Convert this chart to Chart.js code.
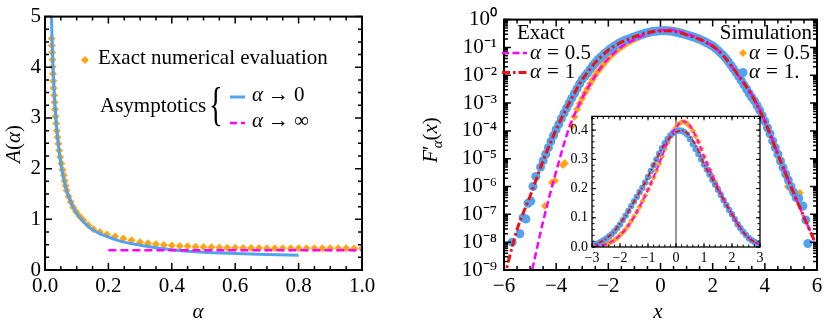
<!DOCTYPE html>
<html>
<head>
<meta charset="utf-8">
<script src="https://cdn.jsdelivr.net/npm/chart.js@4.4.1/dist/chart.umd.min.js"></script>
<style>
html,body{margin:0;padding:0;background:#fff;overflow:hidden}
#wrap{position:relative;width:831px;height:324px;background:#fff}
canvas{position:absolute;display:block}
</style>
</head>
<body>
<div id="wrap">
<canvas id="cLeft" width="380" height="324" style="left:0;top:0;width:380px;height:324px"></canvas>
<canvas id="cRight" width="431" height="324" style="left:400px;top:0;width:431px;height:324px"></canvas>
<canvas id="cInset" width="222" height="168" style="left:548px;top:104px;width:222px;height:168px"></canvas>
</div>
<script>
// ---------------- LEFT PANEL DATA: A(alpha) ----------------
const alphaExact = [0.021,0.0217,0.0225,0.0234,0.0243,0.0253,0.0263,0.0275,0.0287,0.0301,0.0316,0.0333,0.0352,0.0373,0.0395,0.042,0.0448,0.0479,0.0515,0.0553,0.059,0.062,0.065,0.068,0.0745,0.0813,0.089,0.098,0.109,0.121,0.136,0.152,0.173,0.195,0.221,0.247,0.273,0.30,0.325,0.35,0.375,0.40,0.425,0.45,0.475,0.50,0.525,0.55,0.575,0.60,0.625,0.65,0.675,0.70,0.725,0.75,0.775,0.80,0.825,0.85,0.875,0.90,0.925,0.95,0.975,1.0];
const AExact = [4.57,4.43,4.29,4.15,4.01,3.87,3.73,3.59,3.45,3.31,3.17,3.03,2.89,2.75,2.62,2.49,2.36,2.23,2.10,1.98,1.87,1.76,1.66,1.57,1.45,1.34,1.24,1.15,1.06,0.98,0.89,0.81,0.75,0.70,0.66,0.62,0.585,0.55,0.53,0.51,0.495,0.485,0.475,0.467,0.46,0.455,0.45,0.445,0.44,0.437,0.435,0.433,0.432,0.431,0.43,0.43,0.429,0.429,0.428,0.428,0.428,0.427,0.427,0.427,0.426,0.426];
const alphaSmall = [0.020,0.022,0.025,0.03,0.035,0.04,0.05,0.06,0.07,0.08,0.09,0.1,0.12,0.14,0.16,0.18,0.2,0.25,0.3,0.35,0.4,0.45,0.5,0.6,0.7,0.8];
const ASmall = [5.1,4.6,4.05,3.4,2.95,2.6,2.1,1.77,1.53,1.37,1.23,1.12,0.96,0.84,0.76,0.70,0.65,0.55,0.49,0.44,0.40,0.37,0.35,0.325,0.305,0.29];
const alphaLarge = [0.2,1.0];
const ALarge = [0.39,0.39];
const leftXTicks = [0,0.2,0.4,0.6,0.8,1.0];
const leftXLabels = ['0.0','0.2','0.4','0.6','0.8','1.0'];
const leftYTicks = [0,1,2,3,4,5];
const leftYLabels = ['0','1','2','3','4','5'];

// ---------------- RIGHT PANEL DATA: F'_alpha(x) ----------------
const xExact = [-6,-5.5,-5,-4.5,-4,-3.5,-3,-2.75,-2.5,-2.25,-2,-1.75,-1.5,-1.25,-1,-0.75,-0.5,-0.25,0,0.25,0.5,0.75,1,1.25,1.5,1.75,2,2.25,2.5,2.75,3,3.5,4,4.5,5,5.5,6];
const exact1 = [5e-10,2.8e-8,4.5e-7,8.5e-6,1.12e-4,1.0e-3,7.0e-3,0.0145,0.029,0.049,0.08,0.114,0.155,0.196,0.24,0.29,0.338,0.372,0.393,0.398,0.378,0.34,0.284,0.24,0.196,0.152,0.112,0.072,0.040,0.020,0.0095,1.9e-3,2.2e-4,1.4e-5,1.0e-6,8e-8,7e-9];
const exact05 = [1e-13,1e-11,5e-10,5.6e-8,3.5e-6,1.3e-4,1.5e-3,4e-3,9.5e-3,0.021,0.04,0.067,0.103,0.147,0.196,0.25,0.31,0.37,0.41,0.43,0.415,0.37,0.31,0.255,0.203,0.155,0.112,0.072,0.040,0.020,0.0095,2.0e-3,2.3e-4,1.5e-5,1.0e-6,8e-8,7e-9];
const xSim1 = [-5.69,-5.39,-5.27,-5.16,-5.08,-4.97,-4.89,-4.78,
  -4.6,-4.5,-4.4,-4.3,-4.2,-4.1,-4.0,-3.9,-3.8,-3.7,-3.6,-3.5,-3.4,-3.3,-3.2,-3.1,-3.0,-2.9,-2.8,-2.7,-2.6,-2.5,-2.4,-2.3,-2.2,-2.1,-2.0,-1.9,-1.8,-1.7,-1.6,-1.5,-1.4,-1.3,-1.2,-1.1,-1.0,-0.9,-0.8,-0.7,-0.6,-0.5,-0.4,-0.3,-0.2,-0.1,
  0,0.1,0.2,0.3,0.4,0.5,0.6,0.7,0.8,0.9,1.0,1.1,1.2,1.3,1.4,1.5,1.6,1.7,1.8,1.9,2.0,2.1,2.2,2.3,2.4,2.5,2.6,2.7,2.8,2.9,3.0,3.1,3.2,3.3,3.4,3.5,3.6,3.7,3.8,3.9,4.0,4.1,4.2,4.3,4.4,4.5,4.6,4.7,4.8,4.9,5.0,5.1,5.2,
  5.3,5.46,5.57,5.65];
const sim1 = [1e-8,2e-8,7.6e-8,6.8e-8,2.5e-7,3e-7,1e-6,2.3e-6,
  5.0e-6,8.5e-6,1.45e-5,2.5e-5,4.2e-5,6.9e-5,1.12e-4,1.75e-4,2.75e-4,4.3e-4,6.6e-4,1.0e-3,1.5e-3,2.2e-3,3.3e-3,4.9e-3,7.1e-3,9.3e-3,0.012,0.0163,0.022,0.028,0.036,0.044,0.054,0.065,0.077,0.092,0.107,0.123,0.14,0.156,0.172,0.188,0.203,0.221,0.24,0.26,0.28,0.30,0.32,0.338,0.355,0.37,0.382,0.39,
  0.396,0.399,0.398,0.393,0.385,0.37,0.352,0.335,0.318,0.30,0.282,0.265,0.248,0.23,0.213,0.196,0.178,0.16,0.143,0.127,0.112,0.095,0.078,0.064,0.052,0.041,0.031,0.023,0.017,0.0125,0.009,6.4e-3,4.5e-3,3.2e-3,2.2e-3,1.6e-3,1.2e-3,8.2e-4,5.6e-4,3.5e-4,2.2e-4,1.3e-4,7.9e-5,4.4e-5,2.5e-5,1.45e-5,8.3e-6,4.8e-6,2.8e-6,1.7e-6,1.0e-6,6.3e-7,4e-7,
  3.8e-7,2e-7,6.3e-8,9e-9];
const xSim05 = [-4.43,-4.16,-4.05,-3.74,-3.67,
  -3.4,-3.3,-3.2,-3.1,-3.0,-2.9,-2.8,-2.7,-2.6,-2.5,-2.4,-2.3,-2.2,-2.1,-2.0,-1.9,-1.8,-1.7,-1.6,-1.5,-1.4,-1.3,-1.2,-1.1,-1.0,-0.9,-0.8,-0.7,-0.6,-0.5,-0.4,-0.3,-0.2,-0.1,
  0,0.1,0.2,0.3,0.4,0.5,0.6,0.7,0.8,0.9,1.0,1.1,1.2,1.3,1.4,1.5,1.6,1.7,1.8,1.9,2.0,2.1,2.2,2.3,2.4,2.5,2.6,2.7,2.8,2.9,3.0,3.1,3.2,3.3,3.4,3.5,3.6,3.7,3.8,3.9,4.0,4.1,4.2,4.3,4.4,4.5,4.6,
  4.69,4.88,4.94,5.34];
const sim05 = [2e-7,1.4e-6,1.6e-6,6e-6,6.8e-6,
  1.5e-4,3.2e-4,6e-4,9.7e-4,1.5e-3,2.3e-3,3.3e-3,4.9e-3,7.2e-3,9.9e-3,0.0135,0.018,0.024,0.031,0.040,0.05,0.061,0.074,0.089,0.104,0.120,0.138,0.157,0.176,0.196,0.217,0.238,0.261,0.285,0.31,0.335,0.357,0.378,0.396,
  0.41,0.421,0.428,0.428,0.422,0.412,0.398,0.38,0.36,0.336,0.31,0.287,0.265,0.244,0.223,0.203,0.183,0.164,0.145,0.128,0.112,0.095,0.079,0.064,0.051,0.04,0.031,0.023,0.017,0.0127,9.5e-3,6.8e-3,4.8e-3,3.5e-3,2.6e-3,1.8e-3,1.3e-3,8.8e-4,6e-4,3.7e-4,2.3e-4,1.36e-4,8e-5,4.7e-5,2.8e-5,1.6e-5,9e-6,
  5e-6,1e-6,9e-7,5.9e-7];
const rightXTicks = [-6,-4,-2,0,2,4,6];
const rightXLabels = ['\u22126','\u22124','\u22122','0','2','4','6'];
const rightYTicks = [1e-9,1e-8,1e-7,1e-6,1e-5,1e-4,1e-3,1e-2,1e-1,1];
const rightYLabels = ['10\u207B\u2079','10\u207B\u2078','10\u207B\u2077','10\u207B\u2076','10\u207B\u2075','10\u207B\u2074','10\u207B\u00B3','10\u207B\u00B2','10\u207B\u00B9','10\u2070'];
const insetXTicks = [-3,-2,-1,0,1,2,3];
const insetXLabels = ['\u22123','\u22122','\u22121','0','1','2','3'];
const insetYTicks = [0,0.1,0.2,0.3,0.4];
const insetYLabels = ['0.0','0.1','0.2','0.3','0.4'];

// ---------------- STYLE ----------------
const SERIF = '"Liberation Serif", "Times New Roman", serif';
const BLUE = '#52a2ee', ORANGE = '#ffa514', MAGENTA = '#ff00ff', RED = '#f01010';
Chart.defaults.font.family = SERIF;
Chart.defaults.color = '#000';

function pts(xs, ys){ return xs.map((x,i)=>({x:x, y:ys[i]})); }
function steps(a,b,s){ const r=[]; const n=Math.round((b-a)/s); for(let i=0;i<=n;i++) r.push(a+i*s); return r; }
function logMinor(k0,k1){ const r=[]; for(let k=k0;k<k1;k++) for(let m=2;m<=9;m++) r.push(m*Math.pow(10,k)); return r; }
function fnt(it,size){ return (it?'italic ':'')+size+'px '+SERIF; }
function rich(ctx,x,y,segs,size,align){
  let w=0;
  for(const s of segs){ ctx.font=fnt(s[1],size*(s[2]||1)); w+=ctx.measureText(s[0]).width+(s[4]||0); }
  let cx = align==='center'? x-w/2 : (align==='right'? x-w : x);
  ctx.textBaseline='alphabetic'; ctx.textAlign='left';
  for(const s of segs){ ctx.font=fnt(s[1],size*(s[2]||1)); ctx.fillText(s[0],cx,y+(s[3]||0)); cx+=ctx.measureText(s[0]).width+(s[4]||0); }
}
function diamond(ctx,x,y,r,c){ ctx.fillStyle=c; ctx.beginPath(); ctx.moveTo(x,y-r); ctx.lineTo(x+r,y); ctx.lineTo(x,y+r); ctx.lineTo(x-r,y); ctx.closePath(); ctx.fill(); }
function dot(ctx,x,y,r,c){ ctx.fillStyle=c; ctx.beginPath(); ctx.arc(x,y,r,0,2*Math.PI); ctx.fill(); }
function seg(ctx,x1,x2,y,c,w,dash){ ctx.save(); ctx.strokeStyle=c; ctx.lineWidth=w; ctx.setLineDash(dash||[]); ctx.beginPath(); ctx.moveTo(x1,y); ctx.lineTo(x2,y); ctx.stroke(); ctx.restore(); }

function drawTicks(chart,cfg){
  const ctx=chart.ctx, a=chart.chartArea, sx=chart.scales.x, sy=chart.scales.y;
  ctx.save(); ctx.strokeStyle='#000'; ctx.lineWidth=cfg.tw; ctx.setLineDash([]);
  ctx.beginPath();
  const xt=(vals,len)=>vals.forEach(v=>{ const p=sx.getPixelForValue(v); if(p<a.left-0.5||p>a.right+0.5) return; ctx.moveTo(p,a.bottom); ctx.lineTo(p,a.bottom-len); ctx.moveTo(p,a.top); ctx.lineTo(p,a.top+len); });
  const yt=(vals,len)=>vals.forEach(v=>{ const p=sy.getPixelForValue(v); if(p<a.top-0.5||p>a.bottom+0.5) return; ctx.moveTo(a.left,p); ctx.lineTo(a.left+len,p); ctx.moveTo(a.right,p); ctx.lineTo(a.right-len,p); });
  xt(cfg.xMaj,cfg.maj); xt(cfg.xMin,cfg.min); yt(cfg.yMaj,cfg.maj); yt(cfg.yMin,cfg.min);
  ctx.stroke();
  ctx.lineWidth=cfg.fw; ctx.strokeRect(a.left,a.top,a.right-a.left,a.bottom-a.top);
  ctx.restore();
}

function axis(min,max,tickVals,labels,size,pad,fitProp,fitVal,extra){
  return Object.assign({
    min:min, max:max,
    grid:{display:false, drawTicks:false},
    border:{display:false},
    afterBuildTicks:s=>{ s.ticks = tickVals.map(v=>({value:v})); },
    afterFit:s=>{ s[fitProp]=fitVal; },
    ticks:{autoSkip:false, maxRotation:0, minRotation:0, padding:pad, font:{family:SERIF,size:size}, color:'#000',
           callback:(v,i)=>labels[i]}
  }, extra||{});
}
const baseOpts = { responsive:false, animation:false, devicePixelRatio:1, events:[],
  plugins:{legend:{display:false}, tooltip:{enabled:false}} };

// ---------------- LEFT CHART ----------------
new Chart(document.getElementById('cLeft'), {
  type:'scatter',
  data:{datasets:[
    {data:pts(alphaLarge,ALarge), showLine:true, borderColor:MAGENTA, borderWidth:2.5, borderDash:[8,4], pointRadius:0, order:0},
    {data:pts(alphaSmall,ASmall), showLine:true, borderColor:BLUE, borderWidth:3, pointRadius:0, cubicInterpolationMode:'monotone', order:1},
    {data:pts(alphaExact,AExact), pointStyle:'rectRot', pointRadius:4, backgroundColor:ORANGE, borderWidth:0, order:2}
  ]},
  options:Object.assign({}, baseOpts, {
    layout:{padding:{top:16,right:18,left:0,bottom:0}},
    scales:{
      x:axis(0,1,leftXTicks,leftXLabels,21,4,'height',54),
      y:axis(0,5,leftYTicks,leftYLabels,21,4,'width',45)
    }
  }),
  plugins:[{id:'decoL', afterDraw(chart){
    const ctx=chart.ctx;
    drawTicks(chart,{xMaj:steps(0,1,0.2), xMin:steps(0,1,0.05), yMaj:steps(0,5,1), yMin:steps(0,5,0.25), maj:7, min:4, tw:1.5, fw:2});
    ctx.save();
    diamond(ctx,85,60,4,ORANGE);
    ctx.fillStyle='#000';
    rich(ctx,98,64,[['Exact numerical evaluation',0]],21);
    rich(ctx,100,112,[['Asymptotics',0]],21);
    ctx.save(); ctx.translate(209,120); ctx.scale(0.62,1); ctx.font=fnt(0,46); ctx.textBaseline='alphabetic'; ctx.fillText('{',0,0); ctx.restore();
    seg(ctx,230,245,97,BLUE,3);
    seg(ctx,230,245,123,MAGENTA,2.5,[7,4]);
    ctx.fillStyle='#000';
    rich(ctx,252,101,[['\u03B1',1,1,0,5],['\u2192',0,1,0,5],['0',0]],21);
    rich(ctx,252,127,[['\u03B1',1,1,0,5],['\u2192',0,1,0,5],['\u221E',0]],21);
    rich(ctx,198,318,[['\u03B1',1]],21,'center');
    ctx.save(); ctx.translate(13,144); ctx.rotate(-Math.PI/2);
    rich(ctx,0,7,[['A',1],['(',0],['\u03B1',1],[')',0]],21,'center');
    ctx.restore();
    ctx.restore();
  }}]
});

// ---------------- RIGHT CHART ----------------
new Chart(document.getElementById('cRight'), {
  type:'scatter',
  data:{datasets:[
    {data:pts(xExact,exact1), showLine:true, borderColor:RED, borderWidth:3, borderDash:[8,3,2.5,3], pointRadius:0, cubicInterpolationMode:'monotone', order:0},
    {data:pts(xExact,exact05), showLine:true, borderColor:MAGENTA, borderWidth:2.5, borderDash:[7,3.5], pointRadius:0, cubicInterpolationMode:'monotone', order:1},
    {data:pts(xSim1,sim1), pointStyle:'circle', pointRadius:4.5, backgroundColor:BLUE, borderWidth:0, order:2},
    {data:pts(xSim05,sim05), pointStyle:'rectRot', pointRadius:4, backgroundColor:ORANGE, borderWidth:0, order:3}
  ]},
  options:Object.assign({}, baseOpts, {
    layout:{padding:{top:16,right:14,left:0,bottom:0}},
    scales:{
      x:axis(-6,6,rightXTicks,rightXLabels,21,4,'height',54),
      y:axis(1e-9,1,rightYTicks,rightYLabels,21,7,'width',104,{type:'logarithmic'})
    }
  }),
  plugins:[{id:'decoR', afterDraw(chart){
    const ctx=chart.ctx;
    drawTicks(chart,{xMaj:steps(-6,6,2), xMin:steps(-6,6,0.5), yMaj:rightYTicks, yMin:logMinor(-9,0), maj:7, min:4, tw:1.5, fw:2});
    ctx.save();
    ctx.fillStyle='#000';
    rich(ctx,117,39,[['Exact',0]],21);
    seg(ctx,102,127,53,MAGENTA,2.5,[7,3.5]);
    ctx.fillStyle='#000';
    rich(ctx,130,59,[['\u03B1',1,1,0,6],['=',0,1,0,6],['0.5',0]],21);
    seg(ctx,102,127,72.5,RED,3,[8,3,2.5,3]);
    ctx.fillStyle='#000';
    rich(ctx,130,78,[['\u03B1',1,1,0,6],['=',0,1,0,6],['1',0]],21);
    rich(ctx,412,39,[['Simulation',0]],21,'right');
    diamond(ctx,343,53,4,ORANGE);
    ctx.fillStyle='#000';
    rich(ctx,349,59,[['\u03B1',1,1,0,6],['=',0,1,0,6],['0.5',0]],21);
    dot(ctx,343,72.5,4.5,BLUE);
    ctx.fillStyle='#000';
    rich(ctx,349,78,[['\u03B1',1,1,0,6],['=',0,1,0,6],['1.',0]],21);
    rich(ctx,258,318,[['x',1]],21,'center');
    ctx.save(); ctx.translate(30,140); ctx.rotate(-Math.PI/2);
    rich(ctx,0,7,[['F',1],['\u2032',0,1,0,-3],['\u03B1',1,0.7,5],['(',0],['x',1],[')',0]],21,'center');
    ctx.restore();
    ctx.restore();
  }}]
});

// ---------------- INSET CHART ----------------
new Chart(document.getElementById('cInset'), {
  type:'scatter',
  data:{datasets:[
    {data:pts(xExact,exact1), showLine:true, borderColor:RED, borderWidth:2, borderDash:[5,2,1.5,2], pointRadius:0, cubicInterpolationMode:'monotone', order:0},
    {data:pts(xExact,exact05), showLine:true, borderColor:MAGENTA, borderWidth:2, borderDash:[5,3], pointRadius:0, cubicInterpolationMode:'monotone', order:1},
    {data:pts(xSim1,sim1), pointStyle:'circle', pointRadius:3.2, backgroundColor:BLUE, borderWidth:0, order:2},
    {data:pts(xSim05,sim05), pointStyle:'rectRot', pointRadius:3.2, backgroundColor:ORANGE, borderWidth:0, order:3}
  ]},
  options:Object.assign({}, baseOpts, {
    layout:{padding:{top:10,right:10,left:0,bottom:0}},
    scales:{
      x:axis(-3,3,insetXTicks,insetXLabels,14,3,'height',25),
      y:axis(0,0.447,insetYTicks,insetYLabels,14,4,'width',44)
    }
  }),
  plugins:[{id:'decoI',
    beforeDatasetsDraw(chart){
      const ctx=chart.ctx, a=chart.chartArea;
      ctx.save(); ctx.fillStyle='#fff'; ctx.fillRect(a.left,a.top,a.right-a.left,a.bottom-a.top);
      const p=chart.scales.x.getPixelForValue(0);
      ctx.strokeStyle='#333'; ctx.lineWidth=1; ctx.beginPath(); ctx.moveTo(p,a.top); ctx.lineTo(p,a.bottom); ctx.stroke();
      ctx.restore();
    },
    afterDraw(chart){
      drawTicks(chart,{xMaj:steps(-3,3,1), xMin:steps(-3,3,0.2), yMaj:steps(0,0.4,0.1), yMin:steps(0,0.44,0.02), maj:4, min:2.5, tw:1, fw:1.3});
    }
  }]
});
</script>
</body>
</html>
